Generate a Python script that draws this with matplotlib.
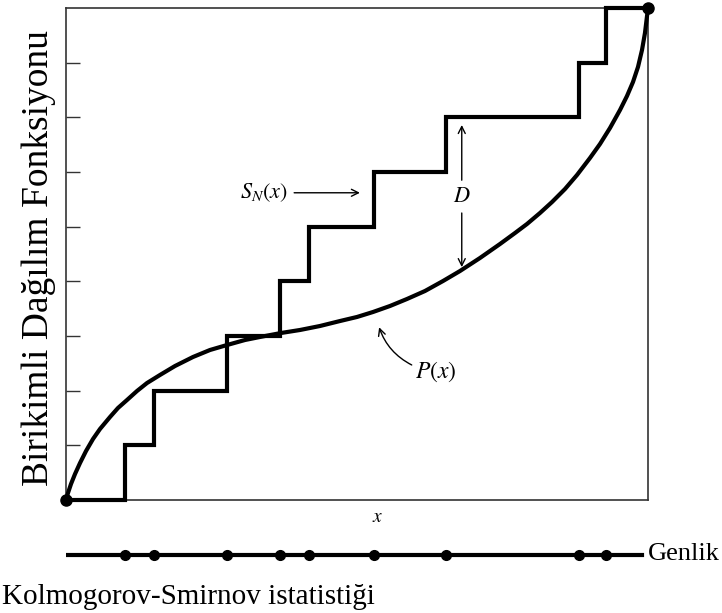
import numpy as np
import matplotlib
matplotlib.use("Agg")
import matplotlib.pyplot as plt

plt.rcParams['font.family'] = ['Liberation Serif', 'DejaVu Serif']
plt.rcParams['mathtext.fontset'] = 'stix'

# sample values (x scaled 0..1) and empirical cdf levels (counts)
sample_x = [0.102, 0.151, 0.276, 0.367, 0.417, 0.529, 0.653, 0.882, 0.928]
step_levels = [0, 1, 2, 3, 4, 5, 6, 7, 8, 9, 9]

# theoretical cdf P(x)
curve_x = [0.0, 0.0034, 0.0086, 0.0155, 0.0241, 0.0344, 0.0464, 0.0584, 0.0756,
           0.0893, 0.1048, 0.1220, 0.1392, 0.1615, 0.1873, 0.2182, 0.2474,
           0.2766, 0.3076, 0.3333, 0.3694, 0.4021, 0.4364, 0.4708, 0.5000,
           0.5275, 0.5567, 0.5859, 0.6168, 0.6478, 0.6770, 0.7113, 0.7457,
           0.7715, 0.7921, 0.8144, 0.8351, 0.8574, 0.8780, 0.9003, 0.9175,
           0.9347, 0.9519, 0.9639, 0.9742, 0.9828, 0.9897, 0.9948, 1.0]
curve_y = [0.0, 0.128, 0.293, 0.476, 0.677, 0.896, 1.116, 1.299, 1.518,
           1.683, 1.829, 1.994, 2.140, 2.287, 2.451, 2.616, 2.744,
           2.835, 2.927, 2.982, 3.055, 3.110, 3.183, 3.274, 3.348,
           3.439, 3.549, 3.677, 3.823, 4.006, 4.189, 4.427, 4.683,
           4.884, 5.049, 5.250, 5.451, 5.689, 5.945, 6.256, 6.512,
           6.805, 7.134, 7.390, 7.646, 7.921, 8.232, 8.543, 9.0]

ytick_pos = [1, 2, 3, 4, 5, 6, 7, 8]

W, H = 722, 613
fig = plt.figure(figsize=(W / 100, H / 100), dpi=100)
ax = fig.add_axes([66 / W, 113 / H, 582 / W, 492 / H])

step_x = [0.0] + sample_x + [1.0]
ax.step(step_x, step_levels, where='post', color='k', lw=3, solid_joinstyle='miter', clip_on=False, zorder=3)
ax.plot(curve_x, curve_y, color='k', lw=3, solid_capstyle='round', solid_joinstyle='round',
        clip_on=False, zorder=3)
ax.plot([curve_x[0], curve_x[-1]], [curve_y[0], curve_y[-1]], 'o', color='k', ms=8, clip_on=False, zorder=4)

ax.set_xlim(0, 1)
ax.set_ylim(0, 9)
ax.set_xticks([])
ax.set_yticks(ytick_pos)
ax.set_yticklabels([])
ax.tick_params(axis='y', direction='in', length=10, width=1, color='#333333')
for s in ax.spines.values():
    s.set_linewidth(1.2)
    s.set_color('#333333')

arrow = dict(arrowstyle='->,head_length=0.5,head_width=0.25', lw=1, color='k', shrinkA=0, shrinkB=0)

# S_N(x)
ax.text(0.382, 5.63, r'$S_N(x)$', ha='right', va='center', fontsize=16)
ax.annotate('', xy=(0.505, 5.62), xytext=(0.392, 5.62), arrowprops=arrow)

# D
ax.text(0.680, 5.54, r'$D$', ha='center', va='center', fontsize=16)
ax.annotate('', xy=(0.680, 6.86), xytext=(0.680, 5.85), arrowprops=arrow)
ax.annotate('', xy=(0.680, 4.26), xytext=(0.680, 5.25), arrowprops=arrow)

# P(x)
ax.text(0.600, 2.34, r'$P(x)$', ha='left', va='center', fontsize=17)
ax.annotate('', xy=(0.538, 3.16), xytext=(0.594, 2.47),
            arrowprops=dict(arrow, connectionstyle='arc3,rad=-0.2'))

ax.text(0.536, -0.035, r'$x$', transform=ax.transAxes, ha='center', va='center', fontsize=14)

# amplitude axis with the samples
ax2 = fig.add_axes([66 / W, (H - 565) / H, 582 / W, 20 / H])
ax2.set_xlim(0, 1)
ax2.set_ylim(-1, 1)
ax2.axis('off')
ax2.axhline(0, xmin=0.002, xmax=0.99, color='k', lw=3)
ax2.plot(sample_x, np.zeros(len(sample_x)), 'o', color='k', ms=7)
ax2.text(1.0, 0.1, 'Genlik', ha='left', va='center', fontsize=19)

fig.text(39 / W, 1 - 258 / H, 'Birikimli Dağılım Fonksiyonu', rotation=90,
         ha='center', va='center', fontsize=27)
fig.text(2 / W, 1 - 597 / H, 'Kolmogorov-Smirnov istatistiği', ha='left', va='center', fontsize=21)

fig.savefig('out.png', dpi=100)
